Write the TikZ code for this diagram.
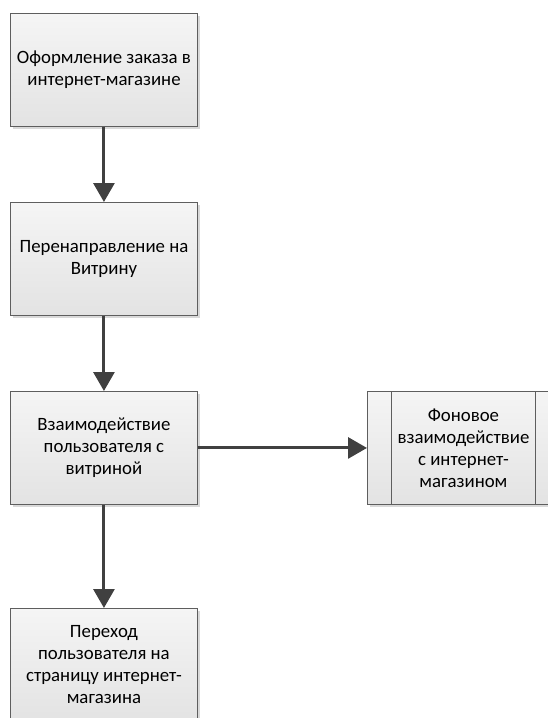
\documentclass[tikz,border=0pt]{standalone}
\usepackage{fontspec}
\setmainfont{Carlito}
\usetikzlibrary{arrows.meta,positioning,calc,shadows}
\definecolor{boxline}{HTML}{5E5E5E}
\definecolor{arrowc}{HTML}{404040}
\definecolor{shadowc}{HTML}{D9D9D9}
\tikzset{
  x=1pt,y=-1pt,
  procbox/.style={draw=boxline,line width=0.9pt,top color=white!96!black,bottom color=white!89!black,
    minimum width=187pt,minimum height=113pt,inner sep=0pt,anchor=north west,
    align=center,font=\fontsize{18.8}{22}\selectfont,
    general shadow={fill=shadowc,shadow xshift=3pt,shadow yshift=-3pt}},
  subbox/.style={procbox,minimum width=192pt},
  boxtext/.style={align=center,font=\fontsize{18.8}{22}\selectfont},
  flow/.style={draw=arrowc,line width=3pt,-{Triangle[width=21pt,length=19pt]}},
}
\begin{document}
\begin{tikzpicture}
\useasboundingbox (0,0) rectangle (548,718);
\clip (0,0) rectangle (548,718);
\node[procbox] (b1) at (10,13) {Оформление заказа в\\интернет-магазине};
\node[procbox] (b2) at (10,202) {Перенаправление на\\Витрину};
\node[procbox] (b3) at (10,391) {Взаимодействие\\пользователя с\\витриной};
\node[procbox] (b4) at (10,608) {Переход\\пользователя на\\страницу интернет-\\магазина};
\node[subbox] (r) at (367,391) {};
\path (r.north west) ++(24,0) coordinate (r1) (r.south west) ++(24,0) coordinate (r2);
\path (r.north east) ++(-24,0) coordinate (r3) (r.south east) ++(-24,0) coordinate (r4);
\draw[boxline,line width=0.9pt] (r1) -- (r2) (r3) -- (r4);
\node[boxtext] (rt) at ($(r1)!0.5!(r4)$) {Фоновое\\взаимодействие\\с интернет-\\магазином};
\draw[flow] (b1) -- (b2);
\draw[flow] (b2) -- (b3);
\draw[flow] (b3) -- (b4);
\draw[flow] (b3) -- (r);
\end{tikzpicture}
\end{document}
